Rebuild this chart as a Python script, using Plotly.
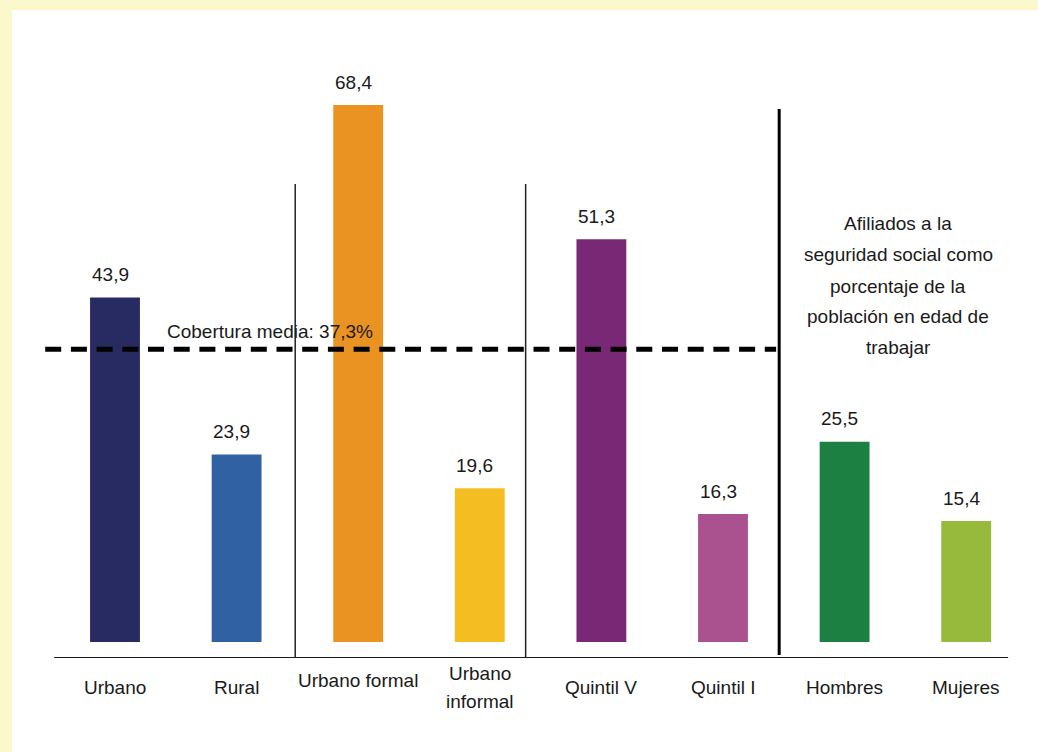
import plotly.graph_objects as go

# ---- data ----
categories = ["Urbano", "Rural", "Urbano formal", "Urbano informal",
              "Quintil V", "Quintil I", "Hombres", "Mujeres"]
tick_labels = ["Urbano", "Rural", "Urbano formal", "Urbano<br>informal",
               "Quintil V", "Quintil I", "Hombres", "Mujeres"]
values = [43.9, 23.9, 68.4, 19.6, 51.3, 16.3, 25.5, 15.4]
average_value = 37.3
average_label = "Cobertura media: 37,3%"
note_lines = ["Afiliados a la", "seguridad social como", "porcentaje de la",
              "población en edad de", "trabajar"]

# ---- styles ----
colors = ["#282A62", "#3062A3", "#EA9323", "#F4BE22",
          "#782875", "#AA528F", "#1B8042", "#97BA3C"]
FONT = "Liberation Sans, Arial, Helvetica, sans-serif"
TXT = "#1a1a1a"
FS = 19
CREAM = "#FBF8CE"

W, H = 1038, 752
ML, MR, MT, MB = 40, 11, 60, 94
PW = W - ML - MR
PH = H - MT - MB  # plot height in px


def paper_y(px):
    """pixel row (from top of figure) -> paper y"""
    return (H - MB - px) / PH


def paper_x(px):
    return (px - ML) / PW


x_idx = list(range(len(categories)))

fig = go.Figure()
fig.add_trace(go.Bar(
    x=x_idx, y=values, marker=dict(color=colors, line=dict(width=0)),
    width=0.41, hoverinfo="x+y", showlegend=False,
))

annotations = []
# value labels
for i, v in zip(x_idx, values):
    annotations.append(dict(
        x=i, y=v, xref="x", yref="y", text=f"{v:.1f}".replace(".", ","),
        showarrow=False, xanchor="center", yanchor="middle",
        yshift=23, xshift=-5, font=dict(family=FONT, size=FS, color=TXT)))
# category labels (pixel row of the label's centre)
label_px = [687, 687, 680, 687, 687, 687, 687, 687]
for i, (lab, py) in enumerate(zip(tick_labels, label_px)):
    lines = lab.split("<br>")
    n = len(lines)
    for k, ln in enumerate(lines):
        yy = py + (k - (n - 1) / 2) * 28
        annotations.append(dict(
            x=i, y=paper_y(yy), xref="x", yref="paper", text=ln, showarrow=False,
            xanchor="center", yanchor="middle",
            font=dict(family=FONT, size=FS, color=TXT)))
# average label
annotations.append(dict(
    x=1.276, y=39.6, xref="x", yref="y", text=average_label, showarrow=False,
    xanchor="center", yanchor="middle",
    font=dict(family=FONT, size=FS, color=TXT)))
# note lines
note_y = [53.25, 49.3, 45.35, 41.5, 37.58]
for t, ny in zip(note_lines, note_y):
    annotations.append(dict(
        x=6.44, y=ny, xref="x", yref="y", text=t, showarrow=False,
        xanchor="center", yanchor="middle",
        font=dict(family=FONT, size=FS, color=TXT)))

y_bottom = -2.038
shapes = [
    # cream frame strips
    dict(type="rect", xref="paper", yref="paper", x0=paper_x(-10), x1=paper_x(12),
         y0=paper_y(H + 10), y1=paper_y(-10), fillcolor=CREAM, line=dict(width=0),
         layer="below"),
    dict(type="rect", xref="paper", yref="paper", x0=paper_x(-10), x1=paper_x(W + 10),
         y0=paper_y(10), y1=paper_y(-10), fillcolor=CREAM, line=dict(width=0),
         layer="below"),
    # x axis line
    dict(type="line", xref="x", yref="y", x0=-0.5, x1=7.345, y0=y_bottom, y1=y_bottom,
         line=dict(color="#1a1a1a", width=2)),
    # separators
    dict(type="line", xref="x", yref="y", x0=1.482, x1=1.482, y0=58.34, y1=y_bottom,
         line=dict(color="#222222", width=1.5)),
    dict(type="line", xref="x", yref="y", x0=3.377, x1=3.377, y0=58.34, y1=y_bottom,
         line=dict(color="#222222", width=1.5)),
    dict(type="line", xref="x", yref="y", x0=5.462, x1=5.462, y0=67.9, y1=-1.66,
         line=dict(color="#000000", width=3)),
    # average line
    dict(type="line", xref="x", yref="y", x0=-0.574, x1=5.437,
         y0=average_value, y1=average_value,
         line=dict(color="#000000", width=5, dash="16px,9.7px")),
]

fig.update_layout(
    width=W, height=H,
    margin=dict(l=ML, r=MR, t=MT, b=MB, pad=0),
    paper_bgcolor="white", plot_bgcolor="white",
    showlegend=False,
    xaxis=dict(range=[-0.6168, 7.5], showticklabels=False, showgrid=False,
               zeroline=False, showline=False, ticks=""),
    yaxis=dict(range=[y_bottom, 74.14], showticklabels=False, showgrid=False,
               zeroline=False, showline=False, ticks=""),
    annotations=annotations, shapes=shapes,
    font=dict(family=FONT, color=TXT),
)

fig.write_html(
    "out.html",
    config={"displayModeBar": False},
    post_script="document.body.style.margin='0';document.body.style.padding='0';"
                "document.body.style.overflow='hidden';",
)
